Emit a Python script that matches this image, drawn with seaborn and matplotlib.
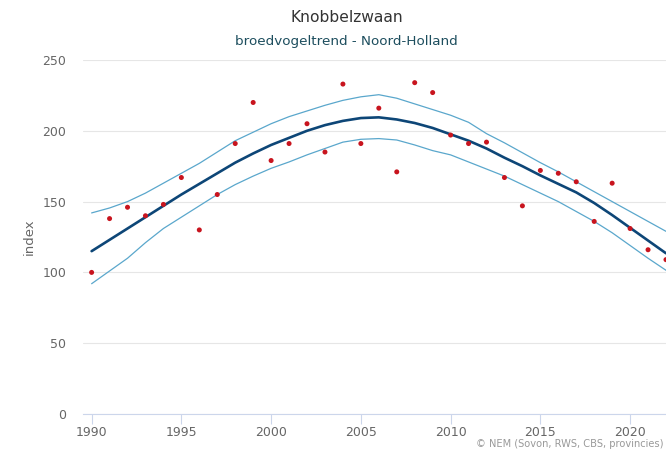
import matplotlib
matplotlib.use("Agg")
import matplotlib.pyplot as plt
import seaborn as sns
import pandas as pd

# --- data ---
years = list(range(1990, 2023))
index_pts = [100, 138, 146, 140, 148, 167, 130, 155, 191, 220, 179, 191, 205, 185, 233, 191, 216,
             171, 234, 227, 197, 191, 192, 167, 147, 172, 170, 164, 136, 163, 131, 116, 109]
trend = [115, 123, 131, 139, 147, 155, 162.5, 170, 177.5, 184, 190, 195, 200, 204, 207, 209, 209.5,
         208, 205.5, 202, 197.5, 193, 187.5, 181, 175, 168.5, 162.5, 156.5, 149, 140.5, 131.5, 122.5, 113.5]
upper = [142, 145.5, 150, 156, 163, 170, 177, 185, 193, 199, 205, 210, 214, 218, 221.5, 224, 225.5,
         223, 219, 215, 211, 206, 198, 191.5, 184.5, 177.5, 171, 164, 157, 150, 143, 136, 129]
lower = [92, 101, 110, 121, 131, 139, 147, 155, 162, 168, 173.5, 178, 183, 187.5, 192, 194, 194.5,
         193.5, 190, 186, 183, 178, 173, 168, 162, 156, 150, 143, 136, 128, 119, 110, 101.5]

df = pd.DataFrame({"jaar": years, "index": index_pts, "trend": trend,
                   "boven": upper, "onder": lower})

sns.set_theme(style="white")
plt.rcParams["font.family"] = ["DejaVu Sans"]

fig = plt.figure(figsize=(6.66, 4.51), dpi=100)
# plot area: x from 83px to the right edge, y from 60px (250) to 414px (0)
ax = fig.add_axes([83 / 666, 37 / 451, 1 - 83 / 666, 354 / 451])

band_col = "#5aa7cc"
sns.lineplot(data=df, x="jaar", y="boven", ax=ax, color=band_col, linewidth=0.9)
sns.lineplot(data=df, x="jaar", y="onder", ax=ax, color=band_col, linewidth=0.9)
sns.lineplot(data=df, x="jaar", y="trend", ax=ax, color="#0d4677", linewidth=1.9)
sns.scatterplot(data=df, x="jaar", y="index", ax=ax, color="#c8141e", s=13,
                edgecolor="none", zorder=5)

ax.set_xlim(1989.52, 2022)
ax.set_ylim(0, 250)
ax.set_yticks([0, 50, 100, 150, 200, 250])
ax.set_xticks([1990, 1995, 2000, 2005, 2010, 2015, 2020])
ax.grid(axis="y", color="#e6e6e6", linewidth=0.8)
ax.set_axisbelow(True)
for s in ["top", "right", "left"]:
    ax.spines[s].set_visible(False)
ax.spines["bottom"].set_color("#ccd6eb")
ax.spines["bottom"].set_linewidth(0.8)
ax.tick_params(axis="x", length=7, width=0.8, color="#ccd6eb", labelsize=9,
               labelcolor="#666666", pad=2, bottom=True)
ax.tick_params(axis="y", length=0, labelsize=9, labelcolor="#666666", pad=12)
ax.set_xlabel("")
ax.set_ylabel("index", fontsize=9.5, color="#666666", labelpad=5)

fig.text(347 / 666, 1 - 18 / 451, "Knobbelzwaan", ha="center", va="center",
         fontsize=11.2, color="#333333")
fig.text(346 / 666, 1 - 41 / 451, "broedvogeltrend - Noord-Holland", ha="center",
         va="center", fontsize=9.7, color="#1d4e5e")
# credits: in the reference it runs off the right edge, keep it fully visible here
fig.text(663 / 666, 1 - 444 / 451, "© NEM (Sovon, RWS, CBS, provincies)", ha="right",
         va="center", fontsize=7.1, color="#999999")

fig.savefig("out.png", dpi=100)
